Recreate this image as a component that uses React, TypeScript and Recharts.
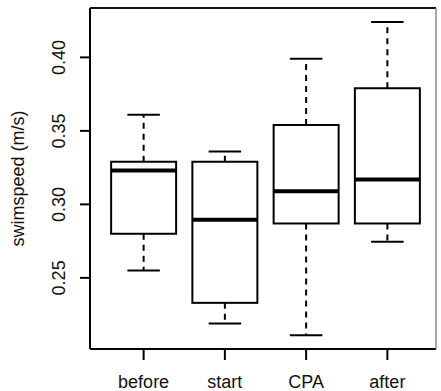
import React from 'react'
import { ComposedChart, Bar, Line, XAxis, YAxis } from 'recharts'

const groups = ['before', 'start', 'CPA', 'after']
const whiskerLow = [0.255, 0.219, 0.211, 0.2745]
const quartileLow = [0.280, 0.233, 0.287, 0.287]
const medians = [0.323, 0.2895, 0.309, 0.317]
const quartileHigh = [0.329, 0.329, 0.354, 0.379]
const whiskerHigh = [0.361, 0.336, 0.399, 0.424]
const yTicks = [0.25, 0.3, 0.35, 0.4]

const data = groups.map((group, i) => ({
    group,
    min: whiskerLow[i],
    q1: quartileLow[i],
    median: medians[i],
    q3: quartileHigh[i],
    max: whiskerHigh[i],
}))

const font = '"Liberation Sans", Arial, sans-serif'
const pad = { left: 13, right: 8 }

function UpperWhisker(props: any) {
    const { x, y, width, height } = props
    const cx = x + width / 2
    return (
        <g>
            <line x1={cx} y1={y + height} x2={cx} y2={y} stroke="#000" strokeWidth={2} strokeDasharray="6 5" />
            <line x1={cx - width / 4} y1={y} x2={cx + width / 4} y2={y} stroke="#000" strokeWidth={2} />
        </g>
    )
}

function LowerWhisker(props: any) {
    const { x, y, width, height } = props
    const cx = x + width / 2
    return (
        <g>
            <line x1={cx} y1={y} x2={cx} y2={y + height} stroke="#000" strokeWidth={2} strokeDasharray="6 5" />
            <line x1={cx - width / 4} y1={y + height} x2={cx + width / 4} y2={y + height} stroke="#000" strokeWidth={2} />
        </g>
    )
}

function BoxShape(props: any) {
    const { x, y, width, height } = props
    return <rect x={x} y={y} width={width} height={height} fill="#fff" stroke="#000" strokeWidth={2} />
}

function MedianDot(props: any) {
    const { cx, cy, index } = props
    return <line key={'m' + index} x1={cx - 32.5} y1={cy} x2={cx + 32.5} y2={cy} stroke="#000" strokeWidth={4} />
}

function YTick(props: any) {
    const { x, y, payload } = props
    return (
        <text x={x} y={y} transform={`rotate(-90, ${x}, ${y})`} textAnchor="middle"
            fontSize={18} fontFamily={font} fill="#111">
            {Number(payload.value).toFixed(2)}
        </text>
    )
}

function YLabel(props: any) {
    const { viewBox } = props
    const x = viewBox.x + 23.5
    const y = viewBox.y + viewBox.height / 2
    return (
        <text x={x} y={y} transform={`rotate(-90, ${x}, ${y})`} textAnchor="middle"
            fontSize={18} fontFamily={font} fill="#111">
            swimspeed (m/s)
        </text>
    )
}

export default function App() {
    return (
        <div style={{ position: 'absolute', left: 0, top: 0, background: '#fff' }}>
            <ComposedChart width={441} height={391} data={data}
                margin={{ top: 7, right: 4, left: 0, bottom: 0 }}>
                <XAxis dataKey="group" height={42} padding={pad} interval={0}
                    axisLine={{ stroke: '#000', strokeWidth: 2 }}
                    tickLine={{ stroke: '#000', strokeWidth: 2 }}
                    tickSize={11} tickMargin={15}
                    tick={{ fontSize: 18, fontFamily: font, fill: '#111' }} />
                <XAxis xAxisId="up" dataKey="group" hide padding={pad} />
                <XAxis xAxisId="low" dataKey="group" hide padding={pad} />
                <XAxis xAxisId="top" dataKey="group" orientation="top" height={1} padding={pad}
                    tick={false} tickLine={false}
                    axisLine={{ stroke: '#111', strokeWidth: 2 }} />
                <YAxis width={90} domain={[0.2016, 0.4336]} allowDataOverflow ticks={yTicks}
                    axisLine={{ stroke: '#000', strokeWidth: 2 }}
                    tickLine={{ stroke: '#000', strokeWidth: 2 }}
                    tickSize={10} tickMargin={15} tick={<YTick />}
                    label={{ content: <YLabel /> }} />
                <YAxis yAxisId="right" orientation="right" width={1} domain={[0.2016, 0.4336]}
                    tick={false} tickLine={false}
                    axisLine={{ stroke: '#8a8a8a', strokeWidth: 1.5 }} />
                <Bar xAxisId="up" dataKey={(d: any) => [d.q3, d.max]} shape={<UpperWhisker />}
                    isAnimationActive={false} />
                <Bar xAxisId="low" dataKey={(d: any) => [d.min, d.q1]} shape={<LowerWhisker />}
                    isAnimationActive={false} />
                <Bar dataKey={(d: any) => [d.q1, d.q3]} shape={<BoxShape />}
                    isAnimationActive={false} />
                <Line dataKey="median" stroke="none" dot={MedianDot} activeDot={false}
                    isAnimationActive={false} />
            </ComposedChart>
        </div>
    )
}
